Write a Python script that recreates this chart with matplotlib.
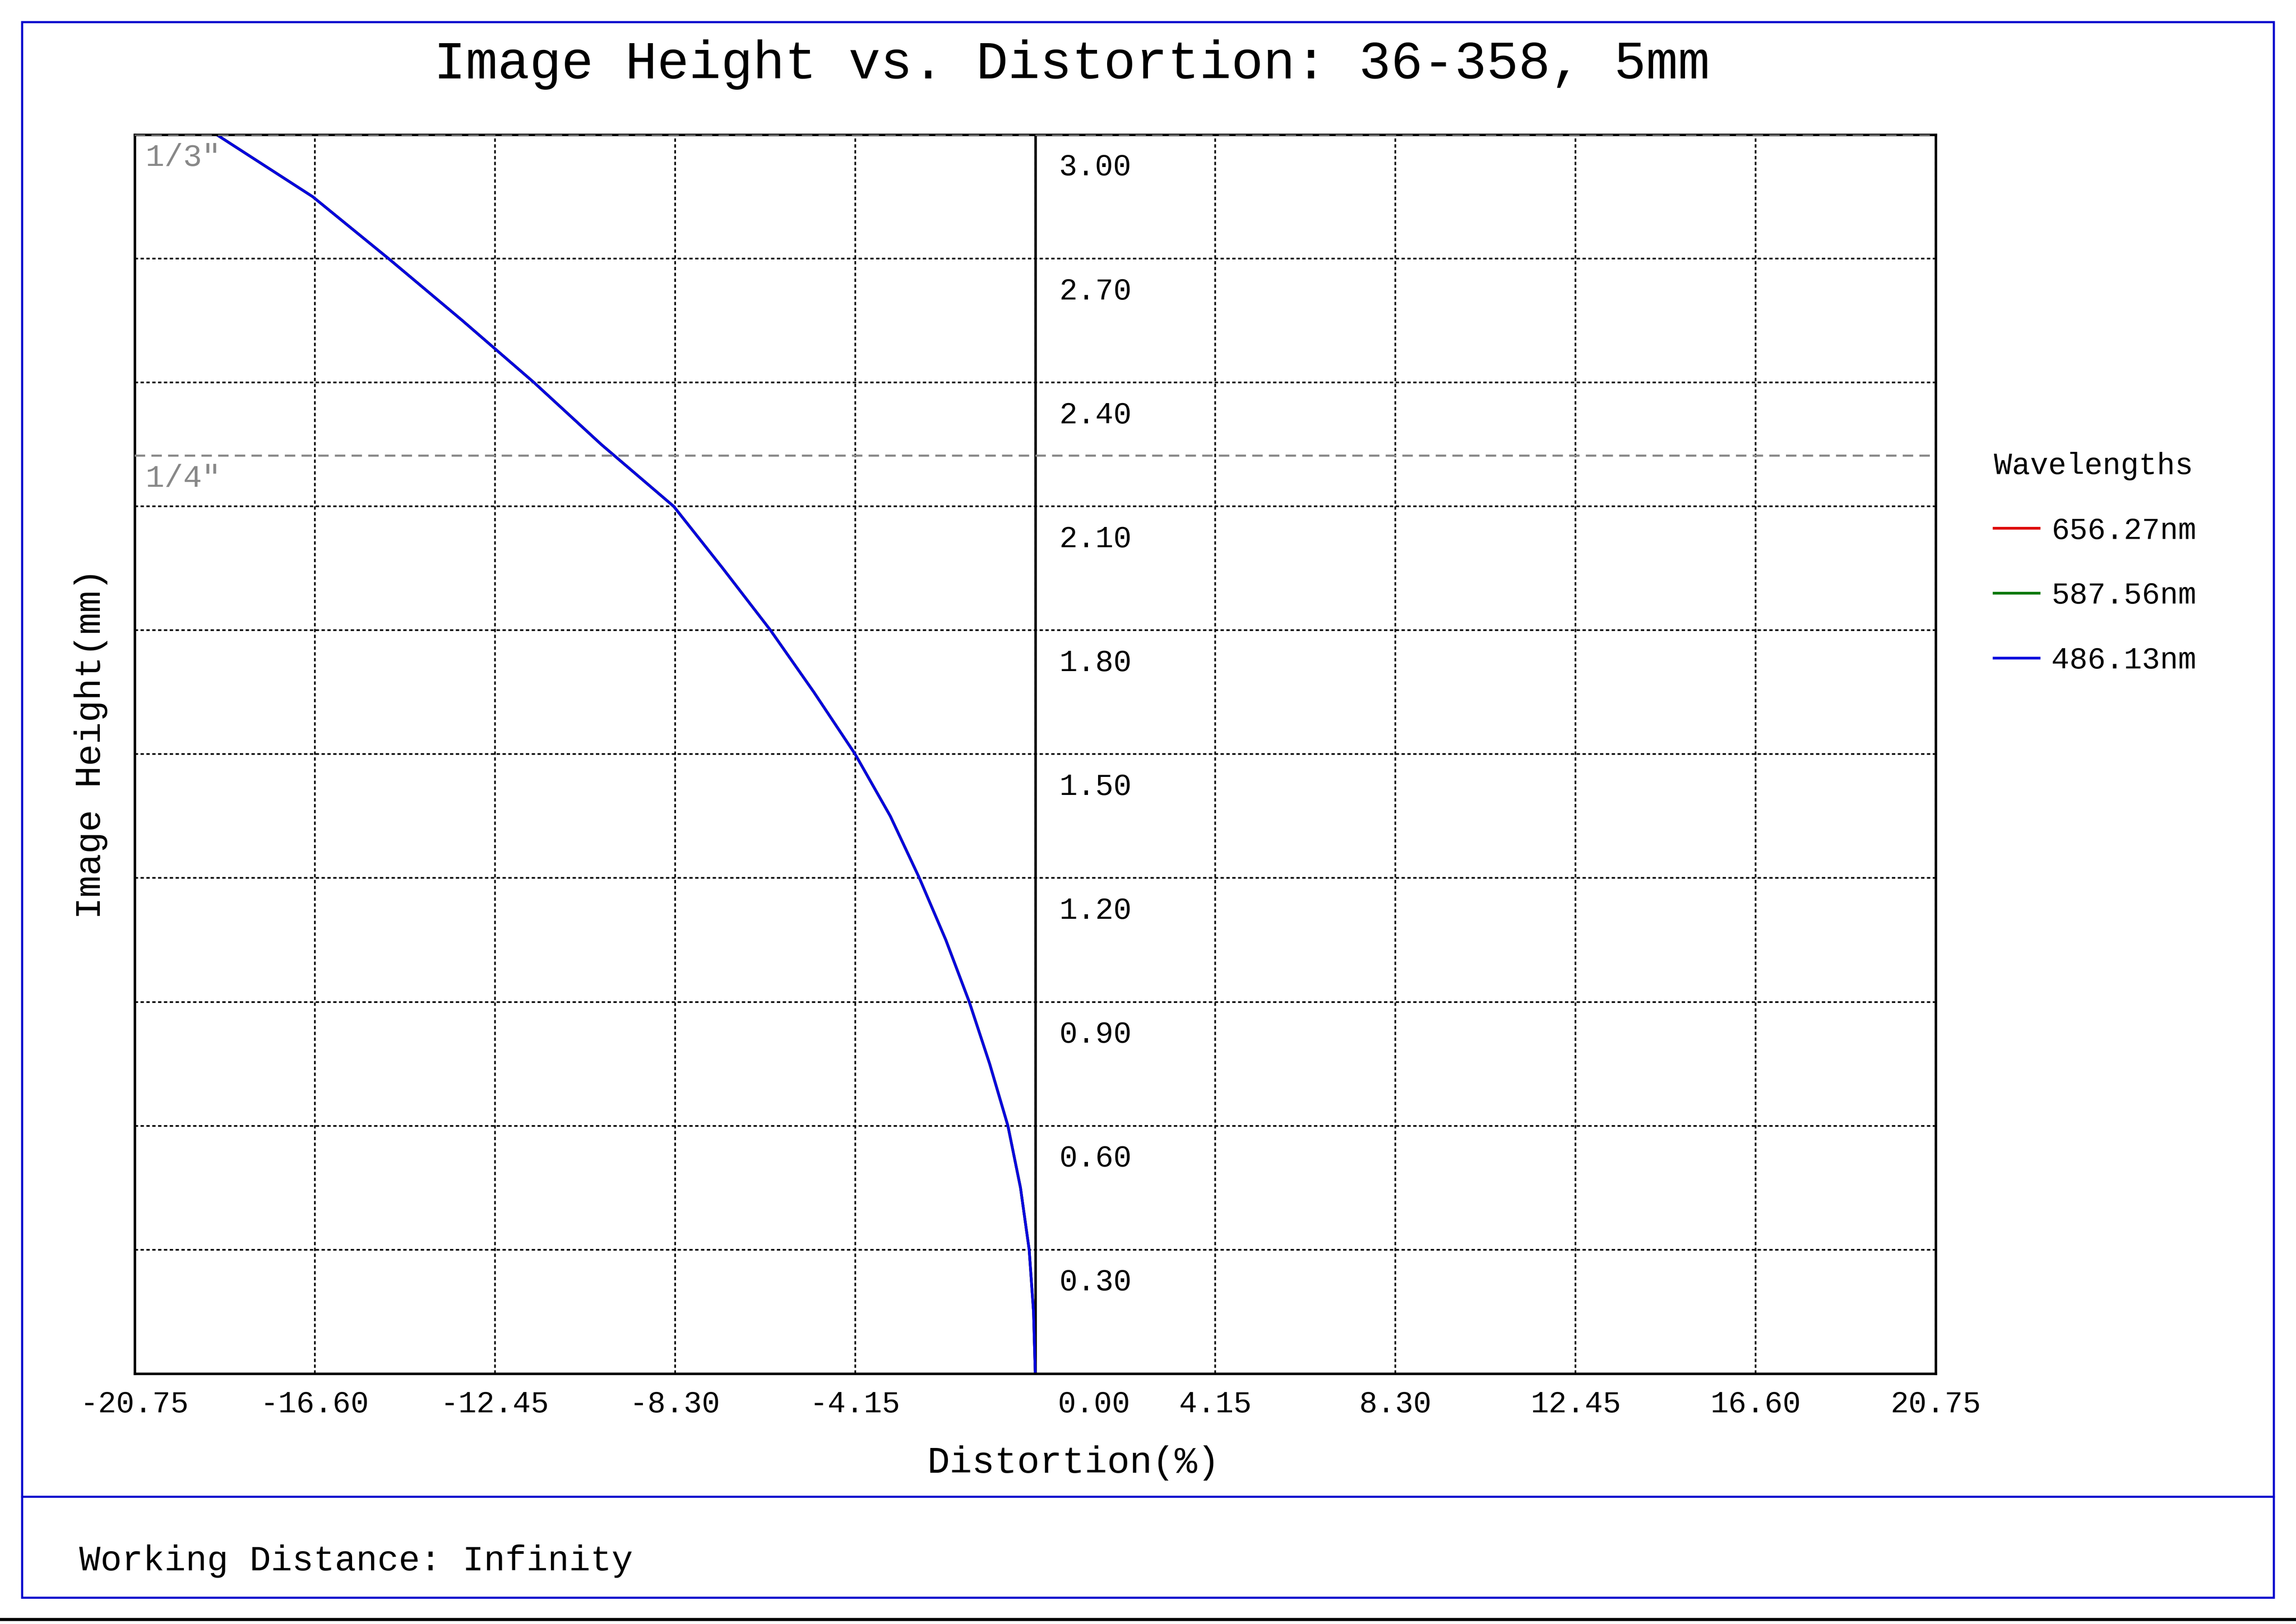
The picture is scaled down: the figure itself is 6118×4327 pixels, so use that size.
import matplotlib
matplotlib.use("Agg")
import matplotlib.pyplot as plt
from matplotlib.lines import Line2D
from matplotlib.patches import Rectangle
import matplotlib.transforms as mtransforms

height = [0.0, 0.15, 0.3, 0.45, 0.6, 0.75, 0.9, 1.05, 1.2, 1.35, 1.5, 1.65, 1.8, 1.95,
          2.1, 2.25, 2.4, 2.55, 2.7, 2.85, 3.0]
distortion = [0.0, -0.04, -0.14, -0.34, -0.63, -1.05, -1.52, -2.06, -2.67, -3.34, -4.15,
              -5.1, -6.1, -7.2, -8.33, -10.0, -11.55, -13.2, -14.9, -16.65, -18.86]
wavelengths = ["656.27nm", "587.56nm", "486.13nm"]
colors = ["#dd0000", "#007700", "#0000dd"]
xticks = [-20.75, -16.60, -12.45, -8.30, -4.15, 0.00, 4.15, 8.30, 12.45, 16.60, 20.75]
yticks = [0.30, 0.60, 0.90, 1.20, 1.50, 1.80, 2.10, 2.40, 2.70, 3.00]
sensor_lines = [(3.0, '1/3"'), (2.223, '1/4"')]

plt.rcParams['font.family'] = ['Liberation Mono', 'DejaVu Sans Mono']
fig = plt.figure(figsize=(15.295, 10.8175), dpi=400)
W, H = 1568, 1109
def fx(x): return x / W
def fy(y): return 1 - y / H

fig.patches.append(Rectangle((fx(15), fy(1091)), fx(1553) - fx(15), fy(15) - fy(1091),
                             transform=fig.transFigure, fill=False, edgecolor="#0000cc", lw=1.0))
fig.lines.append(Line2D([fx(15), fx(1553)], [fy(1022), fy(1022)], transform=fig.transFigure, color="#0000cc", lw=1.0))
fig.lines.append(Line2D([0, 1], [fy(1106), fy(1106)], transform=fig.transFigure, color="black", lw=1.5))

ax = fig.add_axes([fx(92), fy(938), fx(1322) - fx(92), fy(92) - fy(938)])
ax.set_xlim(-20.75, 20.75)
ax.set_ylim(0, 3.0)
for s in ax.spines.values():
    s.set_linewidth(1.2)
ax.set_xticks(xticks)
ax.set_xticklabels([f"{v:.2f}" for v in xticks], fontsize=14.5)
ax.tick_params(axis='x', length=0, pad=8)
ax.set_yticks(yticks)
ax.set_yticklabels([])
ax.tick_params(axis='y', length=0)
ax.grid(True, color="black", linestyle=(0, (2, 1.5)), lw=0.8)
ax.axvline(0, color="black", lw=1.2)
for lab in ax.get_xticklabels():
    if lab.get_text() == "0.00":
        lab.set_transform(lab.get_transform() + mtransforms.ScaledTranslation(0.39, 0, fig.dpi_scale_trans))
for v in yticks:
    ax.text(0.55, v - 0.045, f"{v:.2f}", fontsize=14.5, va="top", ha="left")

for h, name in sensor_lines:
    ax.axhline(h, color="#888888", lw=1.0, linestyle=(0, (5, 3)), zorder=3)
    ax.text(-20.5, h - 0.02, name, color="#888888", fontsize=15, va="top", ha="left")

for c in colors:
    ax.plot(distortion, height, color=c, lw=1.3)

ax.set_xlabel("Distortion(%)", fontsize=18)
ax.xaxis.set_label_coords((733 - 92) / 1230, -(999 - 938) / 846, transform=ax.transAxes)
ax.xaxis.label.set_va("center")
ax.set_ylabel("Image Height(mm)", fontsize=17.5)
ax.yaxis.set_label_coords(-(92 - 62) / 1230, (938 - 508) / 846, transform=ax.transAxes)
ax.yaxis.label.set_va("center")
fig.text(fx(732), fy(44), "Image Height vs. Distortion: 36-358, 5mm", fontsize=25.5, ha="center", va="center")
fig.text(fx(54), fy(1066), "Working Distance: Infinity", fontsize=17, ha="left", va="center")

handles = [Line2D([], [], color=c, lw=1.3) for c in colors]
leg = fig.legend(handles, wavelengths, title="Wavelengths", loc="upper left",
                 bbox_to_anchor=(fx(1343), fy(290)), frameon=False, fontsize=14.5,
                 title_fontsize=14.5, handlelength=1.5, labelspacing=1.2, handletextpad=0.4)
leg._legend_box.align = "left"

fig.savefig("out.png", dpi=400)
